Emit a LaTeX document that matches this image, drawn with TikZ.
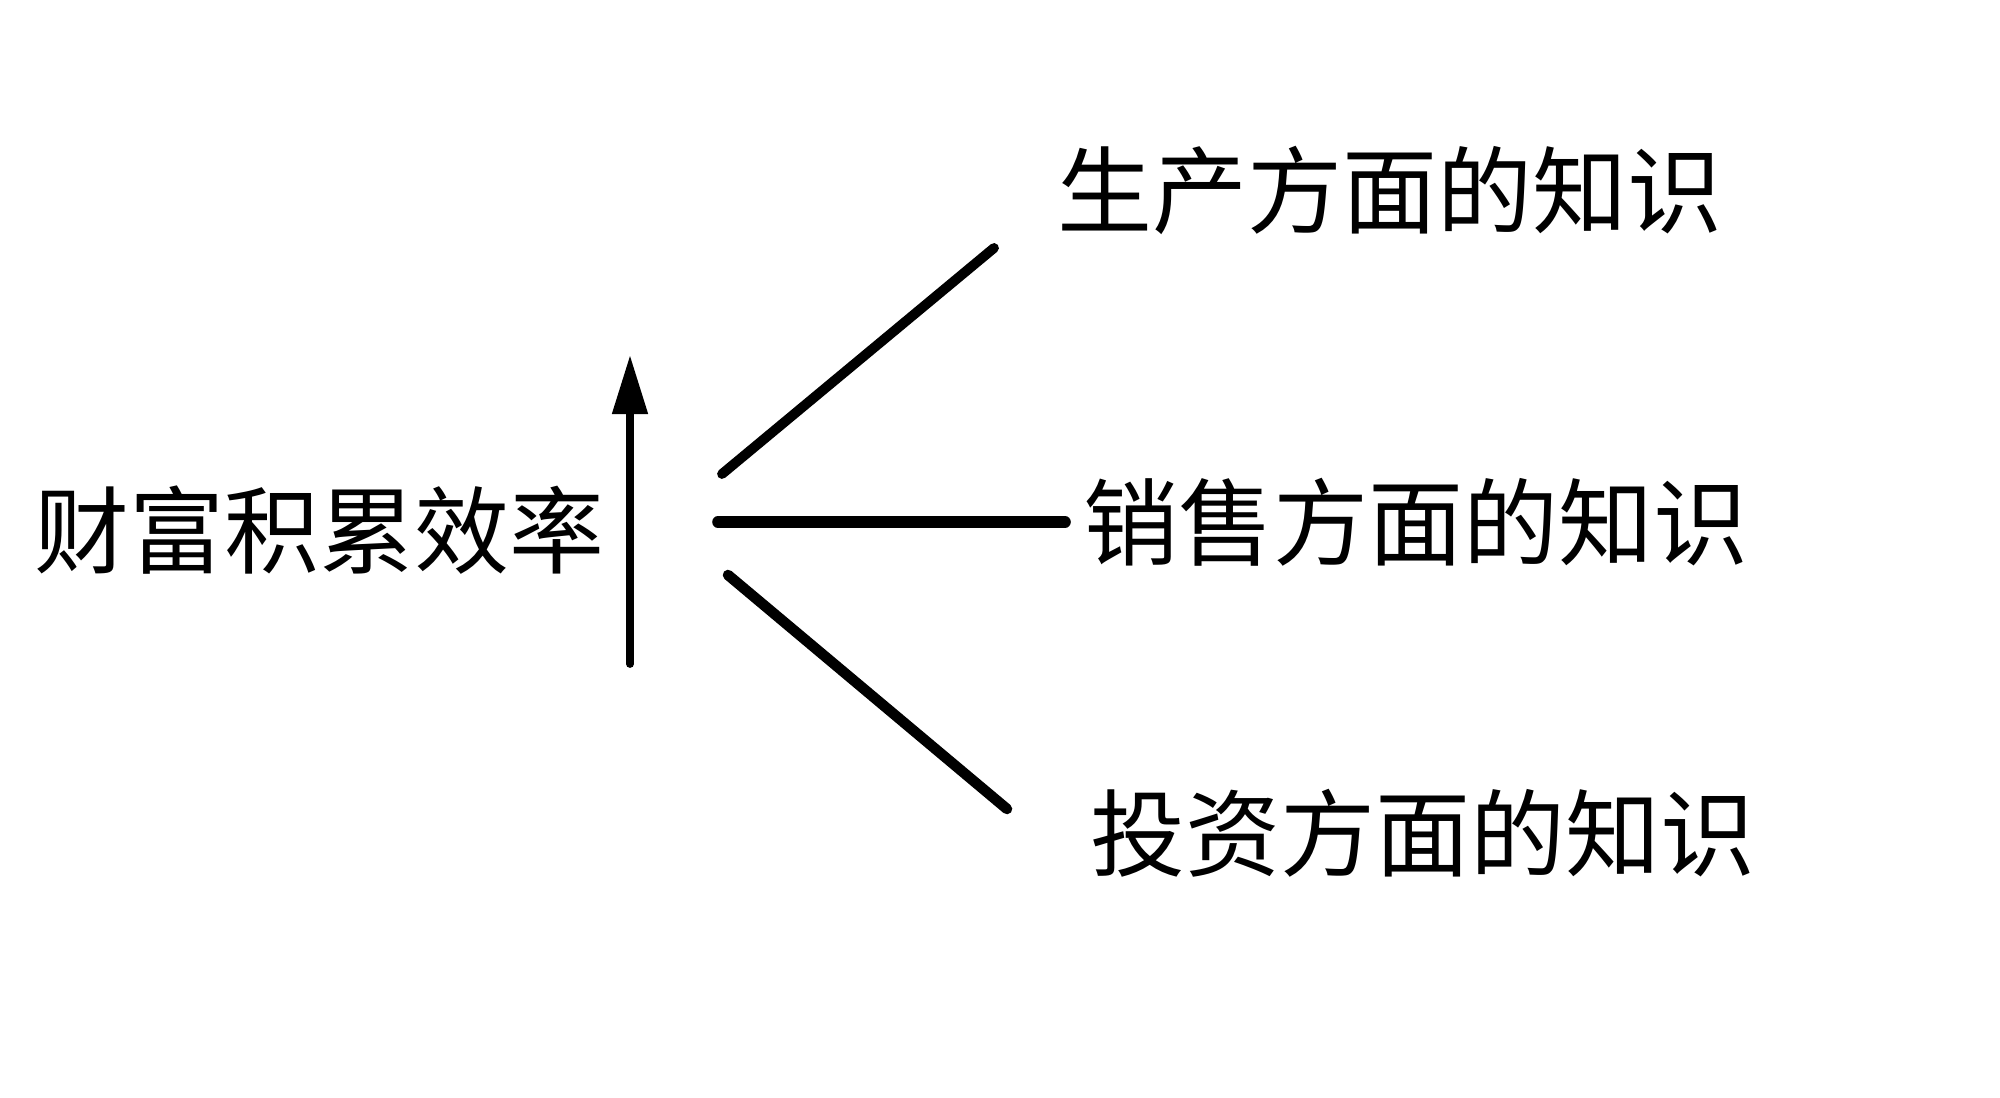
\documentclass[tikz,border=0pt]{standalone}
\usepackage{fontspec}
\newfontfamily\cjk{Noto Sans CJK SC}
\usetikzlibrary{arrows.meta}
\begin{document}
\begin{tikzpicture}[x=0.01cm,y=-0.01cm,
  lbl/.style={font=\cjk\fontsize{27}{27}\selectfont, inner sep=0pt, anchor=west},
  branch/.style={line width=3pt, line cap=round},
  uparrow/.style={line width=2.2pt, line cap=round, -{Triangle[length=16.8pt,width=9.7pt]}}]
\fill[white] (0,0) rectangle (2000,1098);
\useasboundingbox (0,0) rectangle (2000,1098);
% labels
\node[lbl] (src) at (34,530) {财富积累效率};
\node[lbl] (prod) at (1057,190) {生产方面的知识};
\node[lbl] (sale) at (1083,522) {销售方面的知识};
\node[lbl] (inv) at (1090,833) {投资方面的知识};
% arrow
\coordinate (abot) at (630,664);
\coordinate (atop) at (630,355);
\draw[uparrow] (abot) -- (atop);
% branches
\coordinate (topA) at (722,474);
\coordinate (topB) at (994,248);
\coordinate (midA) at (718,522);
\coordinate (midB) at (1065,522);
\coordinate (botA) at (728,575);
\coordinate (botB) at (1007,809);
\draw[branch, line width=2.8pt] (topA) -- (topB);
\draw[branch, line width=3.3pt] (midA) -- (midB);
\draw[branch] (botA) -- (botB);
\end{tikzpicture}
\end{document}
